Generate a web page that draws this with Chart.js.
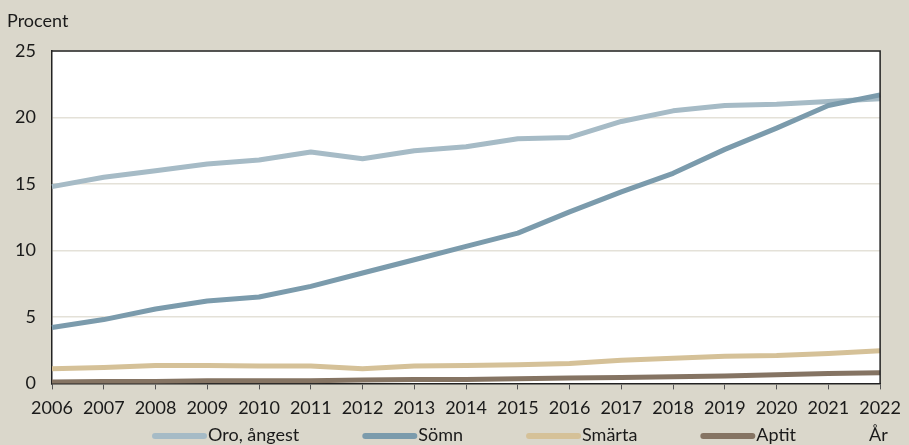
<!DOCTYPE html>
<html>
<head>
<meta charset="utf-8">
<script src="https://cdn.jsdelivr.net/npm/chart.js@4.4.1/dist/chart.umd.min.js"></script>
<style>
  html, body { margin: 0; padding: 0; background: #dad7cb; }
  #wrap { width: 909px; height: 445px; }
</style>
</head>
<body>
<div id="wrap"><canvas id="chart" width="909" height="445"></canvas></div>
<script>
const years = ["2006", "2007", "2008", "2009", "2010", "2011", "2012", "2013", "2014",
  "2015", "2016", "2017", "2018", "2019", "2020", "2021", "2022"];
const oroAngest = [14.8, 15.5, 16.0, 16.5, 16.8, 17.4, 16.9, 17.5, 17.8, 18.4, 18.5, 19.7, 20.5, 20.9, 21.0, 21.2, 21.4];
const somn = [4.2, 4.8, 5.6, 6.2, 6.5, 7.3, 8.3, 9.3, 10.3, 11.3, 12.9, 14.4, 15.8, 17.6, 19.2, 20.9, 21.7];
const smarta = [1.1, 1.2, 1.35, 1.35, 1.3, 1.3, 1.1, 1.3, 1.35, 1.4, 1.5, 1.75, 1.9, 2.05, 2.1, 2.25, 2.45];
const aptit = [0.1, 0.15, 0.15, 0.2, 0.2, 0.2, 0.25, 0.3, 0.3, 0.35, 0.4, 0.45, 0.5, 0.55, 0.65, 0.75, 0.8];
const yTicks = [0, 5, 10, 15, 20, 25];

const fontFam = "Lato, sans-serif";
const txt = "#1a1a1a";

// bakgrund, vit rityta, ram, förklaring och texter
const ramPlugin = {
  id: "ram",
  beforeDraw(chart) {
    const { ctx, chartArea: a } = chart;
    ctx.save();
    ctx.fillStyle = "#dad7cb";
    ctx.fillRect(0, 0, chart.width, chart.height);
    ctx.fillStyle = "#ffffff";
    ctx.fillRect(a.left, a.top, a.right - a.left, a.bottom - a.top);
    ctx.restore();
  },
  afterDraw(chart) {
    const { ctx, chartArea: a } = chart;
    ctx.save();
    ctx.strokeStyle = "#222222";
    ctx.lineWidth = 1.5;
    ctx.beginPath();
    ctx.moveTo(a.left, a.top);
    ctx.lineTo(a.right, a.top);
    ctx.lineTo(a.right, a.bottom);
    ctx.stroke();

    ctx.fillStyle = txt;
    ctx.font = "18px " + fontFam;
    ctx.textBaseline = "middle";
    ctx.fillText("Procent", 7, 21);
    ctx.fillText("År", 869, 435);

    // förklaring
    const sw = 55, gap = 63, ly = 435;
    const items = chart.data.datasets.map(ds => ({ label: ds.label, color: ds.borderColor, w: ctx.measureText(ds.label).width }));
    let total = items.reduce((s, it) => s + sw + 1 + it.w, 0) + gap * (items.length - 1);
    let x = 474 - total / 2;
    ctx.lineCap = "round";
    ctx.lineWidth = 6;
    items.forEach(it => {
      ctx.strokeStyle = it.color;
      ctx.beginPath();
      ctx.moveTo(x + 3, ly + 1);
      ctx.lineTo(x + sw - 3, ly + 1);
      ctx.stroke();
      ctx.fillText(it.label, x + sw + 1, ly);
      x += sw + 1 + it.w + gap;
    });
    ctx.restore();
  }
};

const serie = (label, data, color, order) => ({
  label: label,
  data: data,
  borderColor: color,
  backgroundColor: color,
  borderWidth: 5,
  pointRadius: 0,
  tension: 0,
  borderJoinStyle: "round",
  order: order
});

new Chart(document.getElementById("chart"), {
  type: "line",
  data: {
    labels: years,
    datasets: [
      serie("Oro, ångest", oroAngest, "#a6bbc6", 1),
      serie("Sömn", somn, "#7b9bac", 0),
      serie("Smärta", smarta, "#d5c198", 2),
      serie("Aptit", aptit, "#857463", 3)
    ]
  },
  options: {
    responsive: false,
    animation: false,
    layout: { padding: { top: 51, right: 26, left: 0, bottom: 18 } },
    plugins: {
      tooltip: { enabled: false },
      legend: { display: false }
    },
    scales: {
      x: {
        offset: false,
        border: { display: true, color: "#222222", width: 1.5 },
        grid: { drawOnChartArea: false, drawTicks: true, tickLength: 6, color: "#555555" },
        ticks: { color: txt, font: { family: fontFam, size: 18 }, maxRotation: 0, autoSkip: false, padding: 8 }
      },
      y: {
        min: 0,
        max: 25,
        afterBuildTicks(scale) {
          scale.ticks = yTicks.map(v => ({ value: v }));
        },
        afterFit(scale) { scale.width = 52; },
        border: { display: true, color: "#222222", width: 1.5 },
        grid: { color: "#e4e1d8", lineWidth: 1.5, drawTicks: false },
        ticks: { color: txt, font: { family: fontFam, size: 18 }, padding: 16 }
      }
    }
  },
  plugins: [ramPlugin]
});
</script>
</body>
</html>
